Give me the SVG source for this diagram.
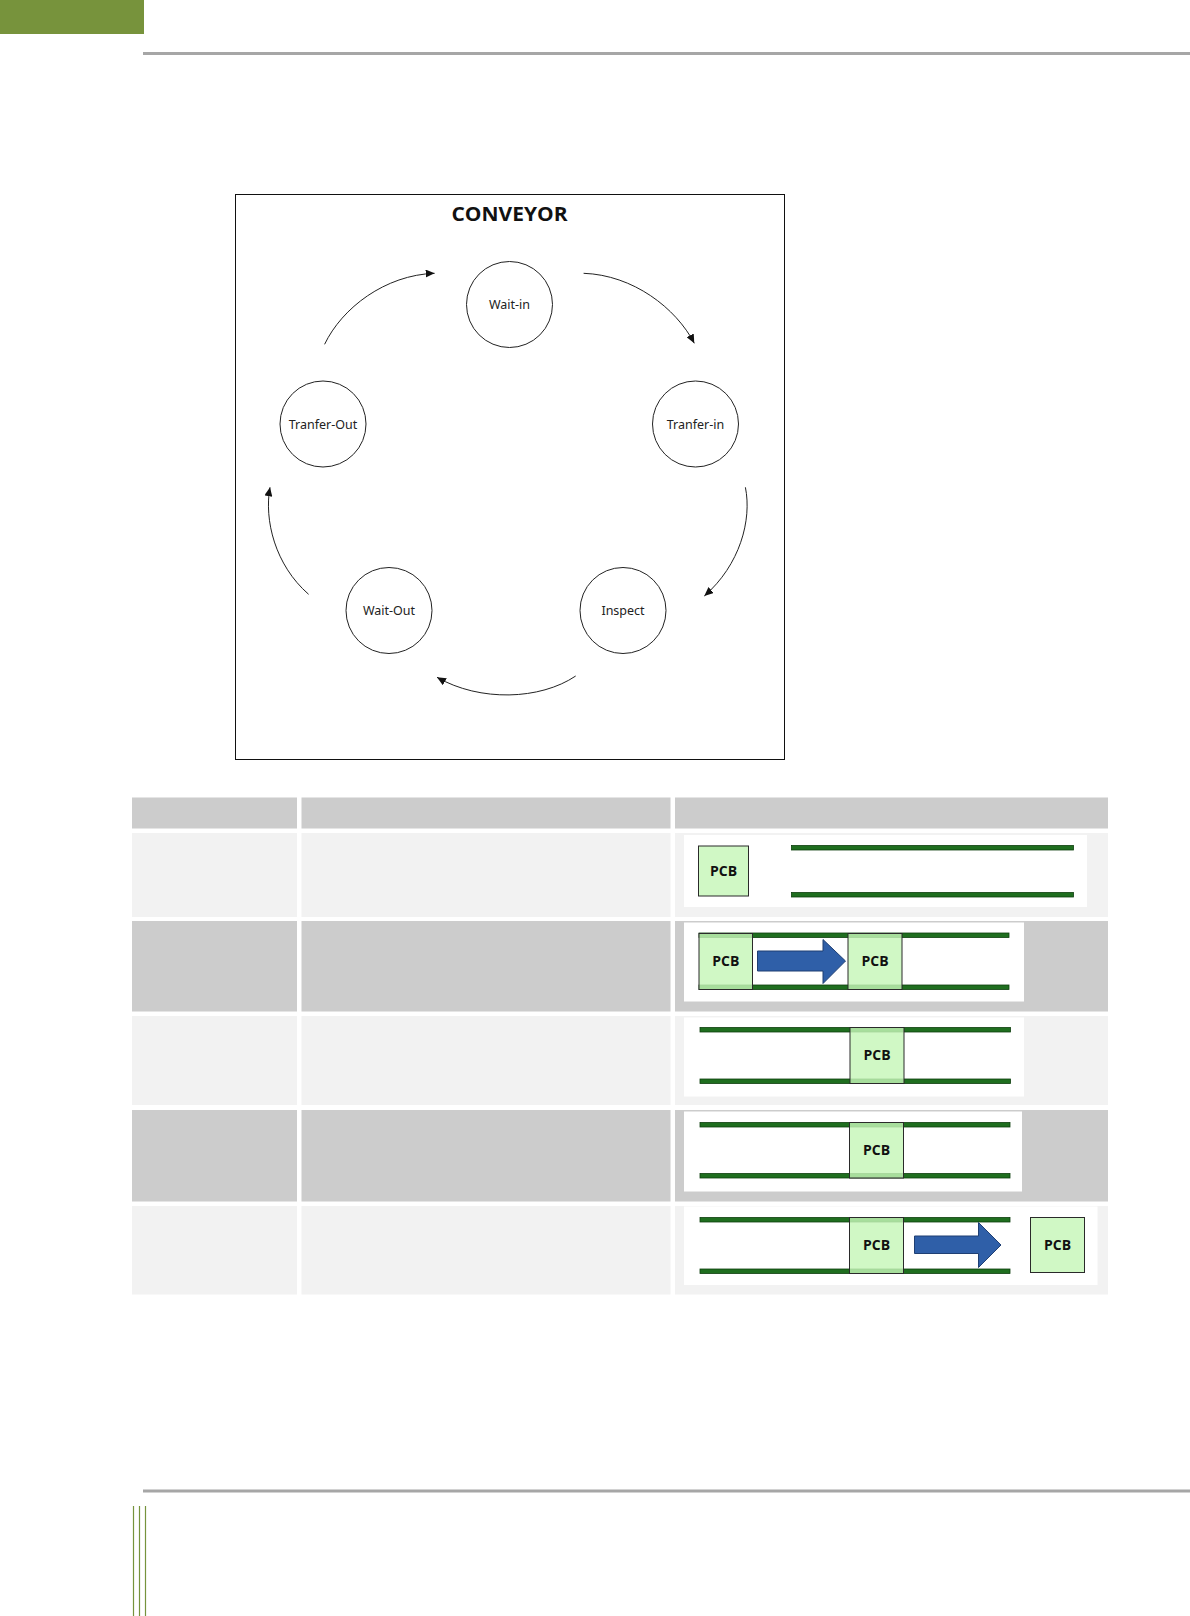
<svg xmlns="http://www.w3.org/2000/svg" width="1190" height="1616" viewBox="0 0 1190 1616">
<style>
.node circle{fill:#fff;stroke:#222;stroke-width:1}
.node text{font-family:"Noto Sans","Open Sans",sans-serif;font-size:12.5px;fill:#222;text-anchor:middle}
.conn path{fill:none;stroke:#222;stroke-width:1}
.hd{fill:#cccccc}
.lt{fill:#f2f2f2}
.dk{fill:#cccccc}
.wb{fill:#ffffff}
.rail{fill:#1f6e1f;stroke:#0e3f0e;stroke-width:0.8}
.pcb{fill:#c6f7b8;fill-opacity:0.82;stroke:#2a2a2a;stroke-width:1}
.pcbt{font-family:"Open Sans","Noto Sans",sans-serif;font-weight:bold;font-size:14px;fill:#111;text-anchor:middle}
.arr{fill:#2f5fa8;stroke:#1f3f73;stroke-width:1}
</style>
<defs>
<marker id="ah" markerUnits="userSpaceOnUse" markerWidth="10" markerHeight="8" refX="9" refY="4" orient="auto">
<path d="M0,0 L9,4 L0,8 Z" fill="#111"/>
</marker>
</defs>
<rect x="0" y="0" width="144" height="34" fill="#77933c"/>
<rect x="143" y="52" width="1047" height="3" fill="#a6a6a6"/>
<rect x="143" y="1489.5" width="1047" height="3" fill="#a6a6a6"/>
<g stroke="#76933c" stroke-width="1.2">
<line x1="133.5" y1="1506" x2="133.5" y2="1616"/>
<line x1="139.5" y1="1506" x2="139.5" y2="1616"/>
<line x1="145.5" y1="1506" x2="145.5" y2="1616"/>
</g>
<g id="frame">
<rect x="235.5" y="194.5" width="549" height="565" fill="#fff" stroke="#111" stroke-width="1"/>
<text x="509.5" y="221" font-family="Open Sans,Noto Sans,sans-serif" font-weight="bold" font-size="20px" text-anchor="middle" fill="#111" textLength="116" lengthAdjust="spacingAndGlyphs">CONVEYOR</text>
</g>
<g id="wait-in" class="node"><circle cx="509.5" cy="304.5" r="43"/><text x="509.5" y="309">Wait-in</text></g>
<g id="tranfer-in" class="node"><circle cx="695.5" cy="424" r="43"/><text x="695.5" y="428.5">Tranfer-in</text></g>
<g id="inspect" class="node"><circle cx="623" cy="610.5" r="43"/><text x="623" y="615">Inspect</text></g>
<g id="wait-out" class="node"><circle cx="389" cy="610.5" r="43"/><text x="389" y="615">Wait-Out</text></g>
<g id="tranfer-out" class="node"><circle cx="323" cy="424" r="43"/><text x="323" y="428.5">Tranfer-Out</text></g>
<g id="connectors" class="conn">
<path d="M324.6,344.3 C342,308 385,275 434.6,273.3" marker-end="url(#ah)"/>
<path d="M583.6,273.3 C633,275 676,308 694.3,343.3" marker-end="url(#ah)"/>
<path d="M745.4,487.3 C752,520 740,565 704.3,596" marker-end="url(#ah)"/>
<path d="M575.7,676 C540,700 480,702 437,677.3" marker-end="url(#ah)"/>
<path d="M308.6,594.3 C275,565 264,520 270,487.3" marker-end="url(#ah)"/>
</g>
<g id="table">
<rect class="hd" x="132" y="797.5" width="165" height="31"/>
<rect class="hd" x="301.5" y="797.5" width="369" height="31"/>
<rect class="hd" x="675" y="797.5" width="433" height="31"/>
<rect class="lt" x="132" y="833" width="165" height="84"/>
<rect class="lt" x="301.5" y="833" width="369" height="84"/>
<rect class="lt" x="675" y="833" width="433" height="84"/>
<rect class="dk" x="132" y="921" width="165" height="90.5"/>
<rect class="dk" x="301.5" y="921" width="369" height="90.5"/>
<rect class="dk" x="675" y="921" width="433" height="90.5"/>
<rect class="lt" x="132" y="1016" width="165" height="89"/>
<rect class="lt" x="301.5" y="1016" width="369" height="89"/>
<rect class="lt" x="675" y="1016" width="433" height="89"/>
<rect class="dk" x="132" y="1110" width="165" height="91.5"/>
<rect class="dk" x="301.5" y="1110" width="369" height="91.5"/>
<rect class="dk" x="675" y="1110" width="433" height="91.5"/>
<rect class="lt" x="132" y="1206" width="165" height="88.5"/>
<rect class="lt" x="301.5" y="1206" width="369" height="88.5"/>
<rect class="lt" x="675" y="1206" width="433" height="88.5"/>
</g>
<g id="row1">
<rect class="wb" x="684" y="835" width="403" height="72"/>
<rect class="rail" x="791.5" y="845.5" width="282" height="4.5"/>
<rect class="rail" x="791.5" y="892.5" width="282" height="4.5"/>
<rect class="pcb" x="698.5" y="846" width="50" height="50" fill-opacity="1"/>
<text class="pcbt" x="723.5" y="876">PCB</text>
</g>
<g id="row2">
<rect class="wb" x="684" y="922.5" width="340" height="79"/>
<rect class="rail" x="699" y="933" width="310" height="4.5"/>
<rect class="rail" x="699" y="985" width="310" height="4.5"/>
<rect class="pcb" x="699" y="933.5" width="53.5" height="56"/>
<text class="pcbt" x="725.8" y="966">PCB</text>
<path class="arr" d="M757.5,951 L823,951 L823,939.5 L845.5,961 L823,983.5 L823,971 L757.5,971 Z"/>
<rect class="pcb" x="848" y="933.5" width="54" height="56"/>
<text class="pcbt" x="875" y="966">PCB</text>
</g>
<g id="row3">
<rect class="wb" x="684" y="1017.5" width="340" height="79"/>
<rect class="rail" x="700" y="1027.5" width="310.5" height="4.5"/>
<rect class="rail" x="700" y="1079" width="310.5" height="4.5"/>
<rect class="pcb" x="850" y="1027.5" width="54" height="56"/>
<text class="pcbt" x="877" y="1060">PCB</text>
</g>
<g id="row4">
<rect class="wb" x="684" y="1111.5" width="338" height="80"/>
<rect class="rail" x="700" y="1122.5" width="310" height="4.5"/>
<rect class="rail" x="700" y="1173.5" width="310" height="4.5"/>
<rect class="pcb" x="849.5" y="1122.5" width="54" height="55.5"/>
<text class="pcbt" x="876.5" y="1155">PCB</text>
</g>
<g id="row5">
<rect class="wb" x="684" y="1206.5" width="413.5" height="78.5"/>
<rect class="rail" x="700" y="1217.5" width="310" height="4.5"/>
<rect class="rail" x="700" y="1269" width="310" height="4.5"/>
<rect class="pcb" x="849.5" y="1217.5" width="54" height="56"/>
<text class="pcbt" x="876.5" y="1250">PCB</text>
<path class="arr" d="M914.5,1236 L978.5,1236 L978.5,1222.5 L1001,1245 L978.5,1267.5 L978.5,1253.5 L914.5,1253.5 Z"/>
<rect class="pcb" x="1030.5" y="1217.5" width="54" height="55" fill-opacity="1"/>
<text class="pcbt" x="1057.5" y="1249.5">PCB</text>
</g>
</svg>
